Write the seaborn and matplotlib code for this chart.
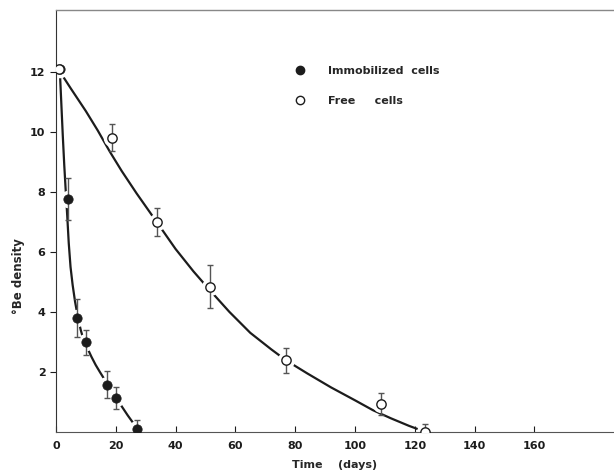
import numpy as np
import pandas as pd
import matplotlib
matplotlib.use("Agg")
import matplotlib.pyplot as plt
from matplotlib.lines import Line2D
import seaborn as sns

# measured points (days, density) with error bars
imm_days = [1.3, 3.9, 7.1, 10.0, 17.0, 20.0, 27.2]
imm_density = [12.1, 7.75, 3.8, 2.98, 1.57, 1.13, 0.1]
imm_err = [0.0, 0.7, 0.63, 0.42, 0.45, 0.37, 0.3]

free_days = [1.1, 18.6, 33.7, 51.5, 77.0, 108.7, 123.4]
free_density = [12.1, 9.8, 7.0, 4.84, 2.38, 0.92, 0.0]
free_err = [0.0, 0.45, 0.46, 0.71, 0.42, 0.36, 0.25]

# hand-drawn fitted curves
imm_curve_x = [1.3, 1.8, 2.3, 2.8, 3.2, 3.8, 4.3, 4.9, 5.6, 6.4, 7.3, 8.3, 9.3, 10.5,
               11.9, 13.3, 14.8, 16.3, 18.0, 20.0, 22.0, 24.0, 25.8, 27.2]
imm_curve_y = [12.1, 11.0, 9.9, 8.9, 8.2, 7.2, 6.3, 5.5, 4.9, 4.35, 3.85, 3.4, 3.05, 2.8,
               2.5, 2.23, 1.98, 1.74, 1.48, 1.15, 0.85, 0.55, 0.3, 0.1]
free_curve_x = [1.1, 5.0, 10.0, 14.0, 18.0, 22.0, 27.0, 33.7, 40.0, 46.0, 51.5, 58.0,
                65.0, 72.0, 77.0, 84.0, 92.0, 100.0, 106.0, 112.0, 118.0, 123.4]
free_curve_y = [12.05, 11.45, 10.7, 10.05, 9.35, 8.7, 7.95, 7.0, 6.1, 5.35, 4.72, 4.0,
                3.3, 2.75, 2.38, 1.95, 1.48, 1.05, 0.72, 0.45, 0.2, 0.0]

sns.set_style("ticks")
plt.rcParams['font.family'] = ['DejaVu Sans']
plt.rcParams['font.weight'] = 'bold'

fig = plt.figure(figsize=(6.14, 4.75), dpi=100)
ax = fig.add_axes([0.091, 0.091, 0.909, 0.888])

ink = '#1c1c1c'

sns.lineplot(x=imm_curve_x, y=imm_curve_y, sort=False, color=ink, lw=1.6, ax=ax, zorder=1)
sns.lineplot(x=free_curve_x, y=free_curve_y, sort=False, color=ink, lw=1.6, ax=ax, zorder=1)

# white halos give the small gaps in the curves around each point
for xs, ys in [(imm_days, imm_density), (free_days, free_density)]:
    ax.plot(xs, ys, 'o', ms=11.5, color='white', mec='white', zorder=2)

ax.errorbar(imm_days, imm_density, yerr=imm_err, fmt='none', ecolor='#555555',
            elinewidth=1.0, capsize=2.5, capthick=1.0, zorder=3)
ax.errorbar(free_days, free_density, yerr=free_err, fmt='none', ecolor='#555555',
            elinewidth=1.0, capsize=2.5, capthick=1.0, zorder=3)

sns.scatterplot(x=imm_days, y=imm_density, color=ink, edgecolor=ink, s=45, ax=ax, zorder=4)
sns.scatterplot(x=free_days, y=free_density, color='white', edgecolor=ink, linewidth=1.0,
                s=45, ax=ax, zorder=4)

ax.set_xlim(0, 186.6)
ax.set_ylim(0, 14.07)
ax.set_xticks(range(0, 161, 20))
ax.set_yticks([2, 4, 6, 8, 10, 12])
ax.tick_params(axis='x', direction='in', length=4, labelsize=8, pad=7, colors=ink)
ax.tick_params(axis='y', direction='out', length=4, labelsize=8, colors=ink)
for lab in ax.get_xticklabels() + ax.get_yticklabels():
    lab.set_fontweight('bold')

ax.spines['right'].set_visible(False)
ax.spines['top'].set_color('#888888')
ax.spines['top'].set_linewidth(1.0)
ax.spines['left'].set_color('#333333')
ax.spines['bottom'].set_color('#555555')

ax.set_xlabel('Time    (days)', fontsize=8, fontweight='bold', labelpad=6)
ax.set_ylabel('°Be density', fontsize=8.5, fontweight='bold')
ax.yaxis.set_label_coords(-0.055, 0.37)

handles = [
    Line2D([], [], marker='o', ls='none', color=ink, ms=6),
    Line2D([], [], marker='o', ls='none', mfc='white', mec=ink, ms=6),
]
ax.legend(handles, ['Immobilized  cells', 'Free     cells'], loc='upper left',
          bbox_to_anchor=(0.40, 0.89), frameon=False, handletextpad=1.5,
          labelspacing=1.75, prop={'size': 8, 'weight': 'bold'})

fig.savefig('out.png', dpi=100)
